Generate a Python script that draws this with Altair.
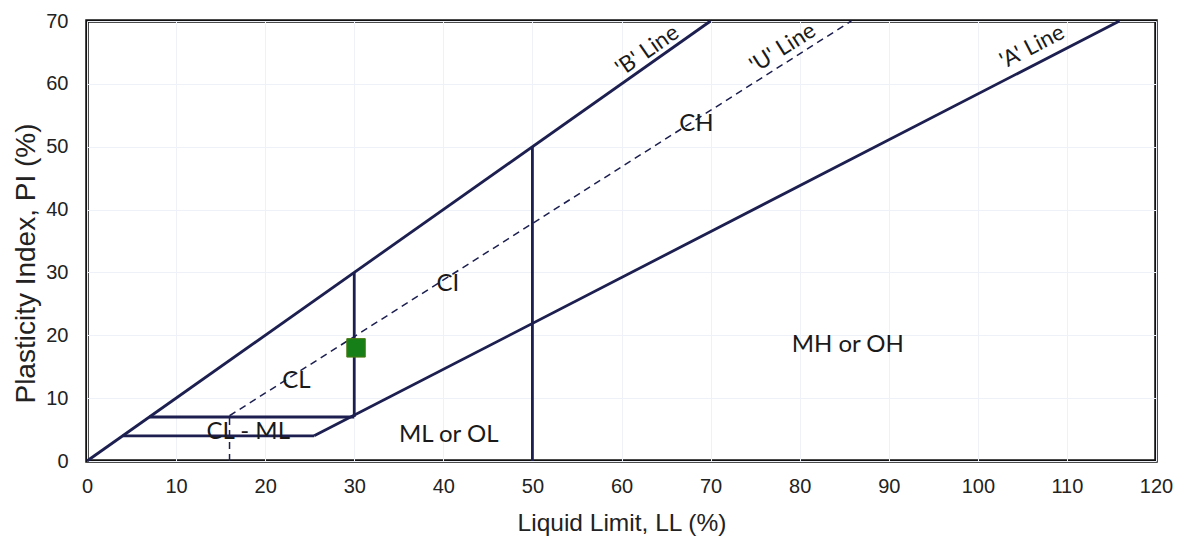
import altair as alt
import pandas as pd

# Boundary segments of the plasticity chart (LL, PI)
seg_x1 = [0, 25.5, 4, 7, 30, 50, 16, 16]
seg_y1 = [0, 4, 4, 7, 7, 0, 7.2, 0]
seg_x2 = [70, 115.9, 25.5, 30, 30, 50, 85.8, 16]
seg_y2 = [70, 70, 4, 7, 30, 50, 70, 7.2]
seg_kind = ["solid", "solid", "solid", "solid", "solid", "solid", "dashed", "dashed"]

# Region labels
region_text = ["CH", "CI", "CL", "CL - ML", "ML or OL", "MH or OH"]
region_x = [68.4, 40.5, 23.5, 18.1, 40.6, 85.4]
region_y = [53.6, 28.2, 12.7, 4.6, 4.1, 18.5]

# Line labels (rotated along the lines)
line_text = ["'B' Line", "'U' Line", "'A' Line"]
line_x = [62.9, 78.1, 106.1]
line_y = [65.3, 65.7, 65.9]
line_angle = [325, 327.6, 332.7]

# Sample point
pt_x = [30.2]
pt_y = [18.0]

seg_df = pd.DataFrame({"x": seg_x1, "y": seg_y1, "x2": seg_x2, "y2": seg_y2, "kind": seg_kind})
reg_df = pd.DataFrame({"t": region_text, "x": region_x, "y": region_y})
lab_df = pd.DataFrame({"t": line_text, "x": line_x, "y": line_y, "a": line_angle})
pt_df = pd.DataFrame({"x": pt_x, "y": pt_y})

xs = alt.Scale(domain=[0, 120], nice=False)
ys = alt.Scale(domain=[0, 70], nice=False)

xax = alt.Axis(values=list(range(0, 121, 10)), title="Liquid Limit, LL (%)", ticks=False,
               domain=False, labelPadding=15, grid=True, titleFontSize=24.5, labelFlush=False,
               titleX=534.5, titleY=62, titleBaseline="middle", titleAlign="center")
yax = alt.Axis(values=list(range(0, 71, 10)), title="Plasticity Index, PI (%)", ticks=False,
               domain=False, labelPadding=19, grid=True, titleFontSize=28, labelFlush=False,
               titleX=-61, titleY=242, titleBaseline="middle", titleAlign="center", titleAngle=270)

base_x = alt.X("x:Q", scale=xs, axis=xax)
base_y = alt.Y("y:Q", scale=ys, axis=yax)

solid = alt.Chart(seg_df).transform_filter(alt.datum.kind == "solid").mark_rule(
    color="#1c1f4f", strokeWidth=2.8
).encode(x=base_x, y=base_y, x2="x2:Q", y2="y2:Q")

dashed = alt.Chart(seg_df).transform_filter(alt.datum.kind == "dashed").mark_rule(
    color="#1c1f4f", strokeWidth=1.5, strokeDash=[7, 5]
).encode(x=alt.X("x:Q", scale=xs), y=alt.Y("y:Q", scale=ys), x2="x2:Q", y2="y2:Q")

regions = alt.Chart(reg_df).mark_text(
    font="Lato", fontSize=24, color="#1a1a1a"
).encode(x=alt.X("x:Q", scale=xs), y=alt.Y("y:Q", scale=ys), text="t:N")

labels = alt.Chart(lab_df).mark_text(
    font="Lato", fontSize=22.5, color="#1a1a1a"
).encode(x=alt.X("x:Q", scale=xs), y=alt.Y("y:Q", scale=ys), text="t:N",
         angle=alt.Angle("a:Q", scale=None))

point = alt.Chart(pt_df).mark_square(
    size=340, fill="#177f17", stroke="#4a7a10", strokeWidth=1, opacity=1
).encode(x=alt.X("x:Q", scale=xs), y=alt.Y("y:Q", scale=ys))

chart = alt.layer(solid, dashed, regions, labels, point).properties(
    width=1069, height=440,
    autosize=alt.AutoSizeParams(type="none"),
    padding={"left": 79, "top": 13, "right": 18, "bottom": 76},
).configure_view(
    stroke="#111111", strokeWidth=3.5
).configure_axis(
    labelFont="Liberation Sans", labelFontSize=20, labelColor="#222222",
    titleFont="Liberation Sans", titleColor="#222222", titleFontWeight="normal",
    gridColor="#eef1f7", gridWidth=1
)

chart.save("out.html", embed_options={"renderer": "svg", "actions": False})
